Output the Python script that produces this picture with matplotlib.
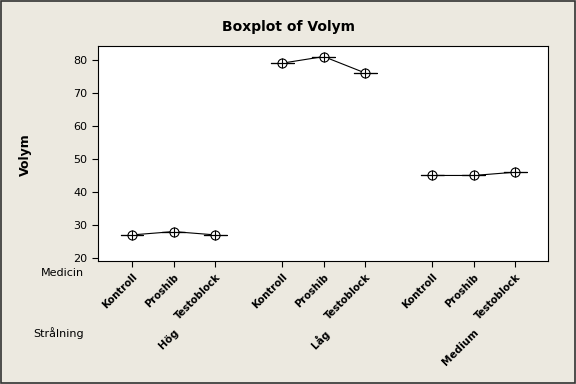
import matplotlib
matplotlib.use("Agg")
import matplotlib.pyplot as plt
from matplotlib.patches import Rectangle

# data
stralning = ["Hög", "Låg", "Medium"]
medicin = ["Kontroll", "Proshib", "Testoblock"]
hog = [27, 28, 27]
lag = [79, 81, 76]
medium = [45, 45, 46]
yticks = [20, 30, 40, 50, 60, 70, 80]

groups = [hog, lag, medium]
gap = 3.6
bg = "#ECE9E0"
plt.rcParams["font.family"] = ["DejaVu Sans"]

fig = plt.figure(figsize=(5.76, 3.84), dpi=100, facecolor=bg)
ax = fig.add_axes([98 / 576, 1 - 261 / 384, 450 / 576, 215 / 384])

pos_all, vals_all = [], []
for g, vals in enumerate(groups):
    pos = [g * gap + i for i in range(len(vals))]
    ax.boxplot([[v] for v in vals], positions=pos, widths=0.55, showcaps=False,
               showfliers=False, manage_ticks=False,
               boxprops=dict(color="black", lw=0.8),
               medianprops=dict(color="black", lw=0.8),
               whiskerprops=dict(color="black", lw=0.8))
    ax.plot(pos, vals, color="black", lw=0.8)
    ax.plot(pos, vals, "o", mfc="white", mec="black", ms=6.5, mew=0.8)
    ax.plot(pos, vals, "+", color="black", ms=6.5, mew=0.8)
    pos_all += pos
    vals_all += vals

ax.set_xlim(-0.815, 9.98)
ax.set_ylim(19.1, 84.2)
ax.set_yticks(yticks)
ax.set_xticks(pos_all)
ax.set_xticklabels(medicin * 3, rotation=45, ha="right", va="top",
                   rotation_mode="anchor", fontsize=7.2, fontweight="semibold")
ax.tick_params(axis="x", pad=4, length=4, width=0.8)
ax.tick_params(axis="y", labelsize=8, length=4, width=0.8)
for s in ax.spines.values():
    s.set_linewidth(0.8)

for g, name in enumerate(stralning):
    ax.text(g * gap + 1, -0.31, name, transform=ax.get_xaxis_transform(),
            rotation=45, ha="right", va="top", rotation_mode="anchor",
            fontsize=7.5, fontweight="bold")

fig.text(84 / 576, 1 - 273 / 384, "Medicin", ha="right", va="center", fontsize=8)
fig.text(84 / 576, 1 - 333 / 384, "Strålning", ha="right", va="center", fontsize=8)
fig.text(25 / 576, 1 - 155 / 384, "Volym", rotation=90, ha="center", va="center",
         fontsize=9, fontweight="bold")
fig.text(0.5, 1 - 27 / 384, "Boxplot of Volym", ha="center", va="center",
         fontsize=10, fontweight="bold")

fig.patches.append(Rectangle((0.002, 0.003), 0.996, 0.994, transform=fig.transFigure,
                             fill=False, ec="#333333", lw=1.2))

fig.savefig("out.png", dpi=100, facecolor=bg)
